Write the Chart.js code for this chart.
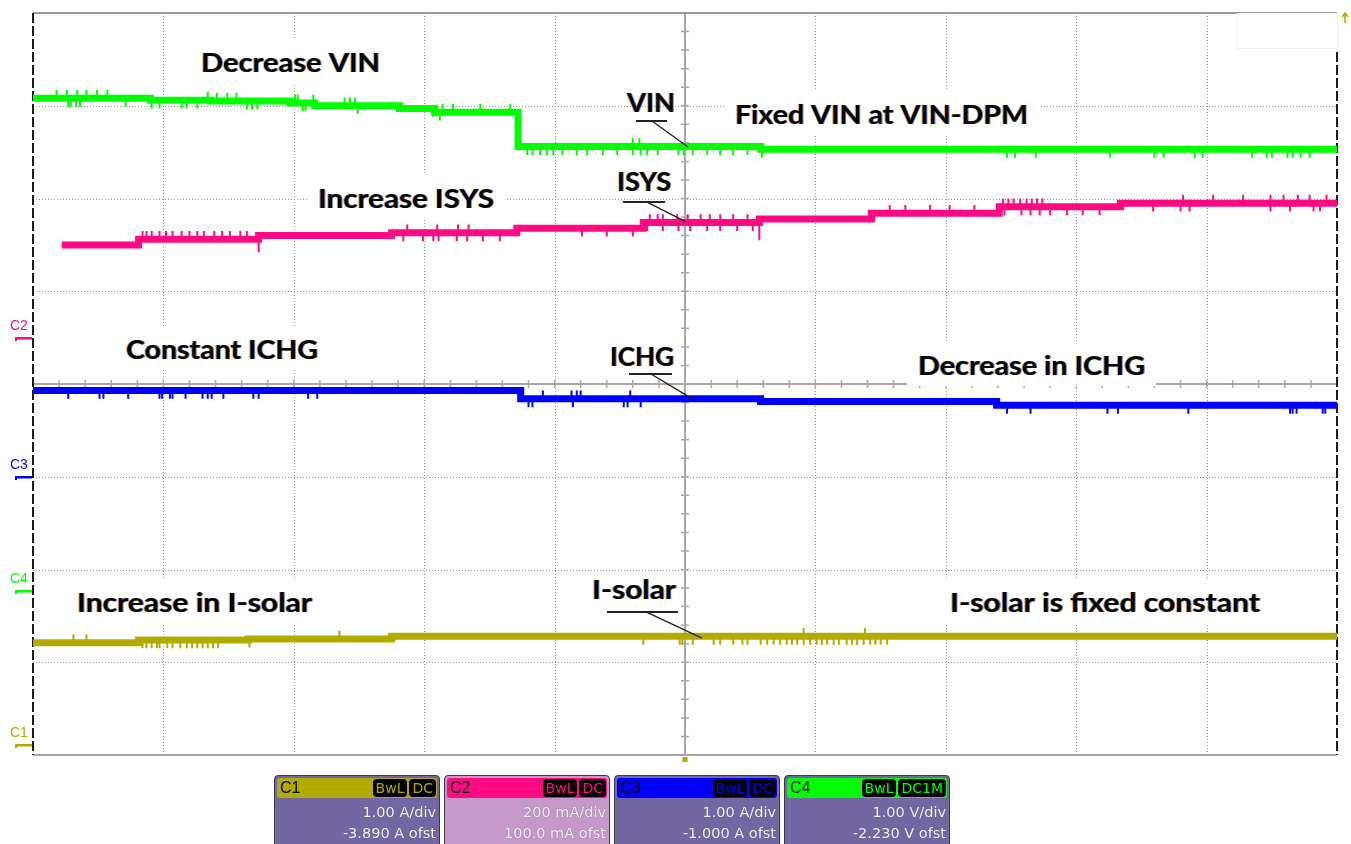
<!DOCTYPE html>
<html>
<head>
<meta charset="utf-8">
<script src="https://cdn.jsdelivr.net/npm/chart.js@4.4.0/dist/chart.umd.min.js"></script>
<style>
html, body { margin: 0; padding: 0; background: #fff; }
#wrap { position: relative; width: 1351px; height: 844px; overflow: hidden; }
#scope { position: absolute; left: 0; top: 0; }
.ch { position: absolute; top: 775px; width: 166px; height: 72px; box-sizing: border-box;
      border: 1px solid #3a3a48; border-radius: 4px 4px 0 0;
      font-family: "DejaVu Sans", Tahoma, sans-serif; color: #f6f6fa; }
.ch .hd { position: absolute; left: 2px; right: 2px; top: 2px; height: 20px; border-radius: 3px;
          color: #000; font-size: 16px; line-height: 20px; padding-left: 3px; box-sizing: border-box;
          font-family: "Liberation Sans", Arial, sans-serif; }
.ch .bd { position: absolute; right: 3px; top: 26px; text-align: right; font-size: 14.5px; line-height: 21px;
          text-shadow: 0 0 1px rgba(40,30,80,0.6); }
.badges { position: absolute; right: 1px; top: 1px; display: flex; gap: 2px; }
.badges span { background: #000; border-radius: 4px; font-size: 14px; line-height: 18px; padding: 0 3px;
               font-family: "DejaVu Sans", Tahoma, sans-serif; }
</style>
</head>
<body>
<div id="wrap">
  <canvas id="scope" width="1351" height="844"></canvas>
</div>
<script>
// screen is 10 x 8 divisions, centre of screen = (5, 0)

// C4 - VIN (green), levels in divisions
const vinX = [0, 0.90, 1.36, 1.97, 2.16, 2.81, 3.08, 3.72, 5.58, 10];
const vinY = [3.08, 3.06, 3.05, 3.03, 3.00, 2.97, 2.93, 2.56, 2.53, 2.53];
const vinUp = [0.18, 0.26, 0.34, 0.41, 0.49, 0.57, 1.34, 1.41, 1.49, 1.56, 2.01, 2.03, 2.15, 2.39, 2.43, 2.47,
               3.14, 3.22, 3.43, 3.66, 4.60, 4.65];
const vinDown = [0.27, 0.29, 0.33, 0.36, 0.71, 0.91, 0.97, 1.14, 1.18, 1.26, 1.64, 1.68, 1.72, 2.07, 2.09, 2.49,
                 3.07, 3.12, 3.79, 3.83, 3.89, 3.94, 3.99, 4.06, 4.17, 4.25, 4.37, 4.48, 4.60, 4.66, 4.71,
                 4.79, 4.95, 4.99, 5.06, 5.17, 5.27, 5.37, 5.48, 5.59, 7.47, 7.53, 7.69, 8.26, 8.60, 8.67,
                 8.91, 8.97, 9.35, 9.46, 9.50, 9.62, 9.66, 9.72, 9.79];

// C2 - ISYS (pink)
const isysX = [0.22, 0.81, 1.73, 2.75, 3.71, 4.68, 5.57, 6.43, 7.41, 8.34, 10];
const isysY = [1.50, 1.56, 1.60, 1.63, 1.68, 1.74, 1.78, 1.84, 1.91, 1.95, 1.95];
const isysUp = [0.84, 0.87, 0.91, 0.97, 1.02, 1.07, 1.14, 1.20, 1.26, 1.31, 1.39, 1.45, 1.51, 1.59, 1.64,
                2.87, 3.10, 3.26, 3.34, 4.73, 4.79, 4.83, 4.94, 5.02, 5.12, 5.19, 5.27, 5.37, 5.48,
                6.57, 6.69, 6.88, 7.03, 7.22, 7.44, 7.48, 7.52, 7.57, 7.62, 7.66, 7.70, 7.74,
                8.82, 9.05, 9.28, 9.49, 9.59, 9.70, 9.79, 9.92];
const isysDown = [2.84, 2.99, 3.07, 3.11, 3.25, 3.33, 3.45, 3.58, 4.21, 4.40, 4.60, 4.71, 4.83, 4.95, 5.04,
                  5.17, 5.27, 5.40, 5.52, 7.45, 7.58, 7.65, 7.72, 7.80, 7.93, 8.05, 8.18, 8.59, 8.80,
                  8.87, 9.49, 9.64, 9.82, 9.87];
const isysGlitchX = [1.73, 5.57];
const isysGlitchY = [1.42, 1.55];

// C3 - ICHG (blue)
const ichgX = [0, 3.74, 5.58, 7.39, 10];
const ichgY = [-0.07, -0.16, -0.19, -0.23, -0.23];
const ichgUp = [3.91, 4.13, 4.17, 4.20, 4.58];
const ichgDown = [0.27, 0.51, 0.54, 0.73, 0.97, 0.99, 1.05, 1.07, 1.17, 1.30, 1.34, 1.37, 1.46, 1.69, 1.73,
                  2.11, 2.18, 3.80, 3.83, 4.14, 4.53, 4.56, 4.66, 7.47, 7.65, 8.24, 8.32, 8.86, 9.64,
                  9.66, 9.69, 9.89, 9.91];

// C1 - I-solar (olive)
const solX = [0, 0.81, 1.65, 2.75, 10];
const solY = [-2.79, -2.76, -2.75, -2.72, -2.72];
const solUp = [0.31, 0.41, 2.35, 5.91, 6.38];
const solDown = [0.84, 0.87, 0.91, 0.95, 0.97, 1.03, 1.07, 1.13, 1.18, 1.22, 1.26, 1.30, 1.34, 1.38, 1.42,
                 1.66, 4.68, 4.96, 4.98, 5.06, 5.22, 5.27, 5.37, 5.44, 5.48, 5.58, 5.63, 5.68, 5.73,
                 5.78, 5.82, 5.86, 5.91, 5.96, 6.01, 6.05, 6.09, 6.14, 6.18, 6.24, 6.28, 6.32, 6.37,
                 6.42, 6.46, 6.50, 6.55];

// channel settings (bottom boxes + offset markers on the left)
const chNames = ['C1', 'C2', 'C3', 'C4'];
const chCoupling = [['BwL', 'DC'], ['BwL', 'DC'], ['BwL', 'DC'], ['BwL', 'DC1M']];
const chScale = ['1.00 A/div', '200 mA/div', '1.00 A/div', '1.00 V/div'];
const chOfst = ['-3.890 A ofst', '100.0 mA ofst', '-1.000 A ofst', '-2.230 V ofst'];
const chMarker = [-3.89, 0.5, -1.0, -2.23];
const chColor = ['#b3aa00', '#ff0a84', '#0000ff', '#00ff00'];
const chBody = ['#7367a3', '#c598c9', '#7367a3', '#7367a3'];

// annotations: text, left x, baseline y, right x (divisions), white box behind
const labels = [
    ['Decrease VIN', 1.288, 3.364, 2.661, true],
    ['VIN', 4.555, 2.933, 4.923, false],
    ['Fixed VIN at VIN-DPM', 5.383, 2.803, 7.630, true],
    ['Increase ISYS', 2.186, 1.898, 3.535, true],
    ['ISYS', 4.479, 2.081, 4.893, false],
    ['Constant ICHG', 0.713, 0.270, 2.186, true],
    ['ICHG', 4.425, 0.194, 4.916, false],
    ['Decrease in ICHG', 6.787, 0.097, 8.528, true],
    ['Increase in I-solar', 0.337, -2.458, 2.140, true],
    ['I-solar', 4.287, -2.318, 4.931, false],
    ['I-solar is fixed constant', 7.032, -2.458, 9.410, true]
];
// callouts: underline x0, x1, y, then pointer x0, x1, end y
const callouts = [
    [4.624, 4.862, 2.836, 4.747, 5.023, 2.555],
    [4.525, 4.847, 1.962, 4.709, 5.008, 1.747],
    [4.571, 4.900, 0.108, 4.739, 5.061, -0.162],
    [4.402, 4.946, -2.458, 4.701, 5.130, -2.739]
];

const SPIKE = 0.09; // how far a glitch reaches past the trace centre, in divisions

function stepData(xs, ys) {
    return xs.map((x, i) => ({ x: x, y: ys[i] }));
}
function levelAt(xs, ys, x) {
    let v = ys[0];
    for (let i = 0; i < xs.length; i++) if (xs[i] <= x) v = ys[i];
    return v;
}
function glitchData(xs, ys, ups, downs, gx, gy) {
    const out = [];
    ups.forEach(x => { const l = levelAt(xs, ys, x); out.push({ x: x, y: l }, { x: x, y: l + SPIKE }, { x: x, y: null }); });
    downs.forEach(x => { const l = levelAt(xs, ys, x); out.push({ x: x, y: l }, { x: x, y: l - SPIKE }, { x: x, y: null }); });
    (gx || []).forEach((x, i) => { out.push({ x: x, y: levelAt(xs, ys, x) }, { x: x, y: gy[i] }, { x: x, y: null }); });
    return out;
}

function trace(data, color) {
    return { data: data, borderColor: color, borderWidth: 7, stepped: true, pointRadius: 0,
             borderCapStyle: 'butt', fill: false };
}
function glitches(data, color) {
    return { data: data, borderColor: color, borderWidth: 2, pointRadius: 0, spanGaps: false, fill: false };
}

const gridPlugin = {
    id: 'graticule',
    beforeDatasetsDraw(chart) {
        const { ctx, chartArea: a, scales: { x, y } } = chart;
        ctx.save();
        // dotted divisions
        ctx.strokeStyle = '#9a9a9a';
        ctx.lineWidth = 1;
        ctx.setLineDash([1, 2]);
        for (let i = 1; i < 10; i++) {
            if (i === 5) continue;
            const px = Math.round(x.getPixelForValue(i)) + 0.5;
            ctx.beginPath(); ctx.moveTo(px, a.top); ctx.lineTo(px, a.bottom); ctx.stroke();
        }
        for (let j = -3; j <= 3; j++) {
            if (j === 0) continue;
            const py = Math.round(y.getPixelForValue(j)) + 0.5;
            ctx.beginPath(); ctx.moveTo(a.left, py); ctx.lineTo(a.right, py); ctx.stroke();
        }
        ctx.setLineDash([]);
        // centre cross with minor ticks
        const cx = x.getPixelForValue(5), cy = y.getPixelForValue(0);
        ctx.strokeStyle = '#a8a8a8';
        ctx.lineWidth = 2;
        ctx.beginPath();
        ctx.moveTo(cx, a.top); ctx.lineTo(cx, a.bottom);
        ctx.moveTo(a.left, cy); ctx.lineTo(a.right, cy);
        ctx.stroke();
        ctx.lineWidth = 1.5;
        ctx.beginPath();
        for (let k = 1; k < 50; k++) {
            const px = x.getPixelForValue(k / 5);
            ctx.moveTo(px, cy - 4); ctx.lineTo(px, cy + 4);
        }
        for (let k = -19; k < 20; k++) {
            const py = y.getPixelForValue(k / 5);
            ctx.moveTo(cx - 4, py); ctx.lineTo(cx + 4, py);
        }
        ctx.stroke();
        // frame
        ctx.strokeStyle = '#7a7a7a';
        ctx.lineWidth = 1.5;
        ctx.beginPath(); ctx.moveTo(a.left, a.top); ctx.lineTo(a.right, a.top); ctx.stroke();
        ctx.strokeStyle = '#a6a6a6';
        ctx.lineWidth = 2;
        ctx.beginPath(); ctx.moveTo(a.left, a.bottom); ctx.lineTo(a.right, a.bottom); ctx.stroke();
        ctx.strokeStyle = '#1a1a1a';
        ctx.lineWidth = 2;
        ctx.setLineDash([10, 3]);
        ctx.beginPath();
        ctx.moveTo(a.left, a.top); ctx.lineTo(a.left, a.bottom);
        ctx.moveTo(a.right, a.top); ctx.lineTo(a.right, a.bottom);
        ctx.stroke();
        ctx.setLineDash([]);
        // empty readout box top right
        ctx.fillStyle = '#fff';
        ctx.fillRect(a.right - 99, a.top + 1, 100, 35);
        ctx.strokeStyle = '#f1f1f1';
        ctx.lineWidth = 1;
        ctx.strokeRect(a.right - 99.5, a.top + 0.5, 100, 35);

        // annotation text
        ctx.font = 'bold 27px Lato, "Open Sans", sans-serif';
        ctx.textBaseline = 'alphabetic';
        labels.forEach(([t, lx, by, rx, box]) => {
            const x0 = x.getPixelForValue(lx), x1 = x.getPixelForValue(rx), yb = y.getPixelForValue(by);
            if (box) {
                ctx.fillStyle = '#fff';
                ctx.fillRect(x0 - 11, yb - 33, x1 - x0 + 22, 44);
            }
            const sx = (x1 - x0) / ctx.measureText(t).width;
            ctx.save();
            ctx.translate(x0, yb);
            ctx.scale(sx, 1);
            ctx.fillStyle = 'rgba(230,140,20,0.75)';
            ctx.fillText(t, -0.9, 0);
            ctx.fillStyle = 'rgba(30,90,210,0.7)';
            ctx.fillText(t, 0.9, 0);
            ctx.fillStyle = '#050505';
            ctx.fillText(t, 0, 0);
            ctx.restore();
        });
        ctx.restore();
    },
    afterDatasetsDraw(chart) {
        const { ctx, chartArea: a, scales: { x, y } } = chart;
        ctx.save();
        // callout pointers
        ctx.strokeStyle = '#222';
        callouts.forEach(([u0, u1, uy, p0, p1, py]) => {
            ctx.lineWidth = 2;
            ctx.beginPath();
            ctx.moveTo(x.getPixelForValue(u0), y.getPixelForValue(uy));
            ctx.lineTo(x.getPixelForValue(u1), y.getPixelForValue(uy));
            ctx.stroke();
            ctx.lineWidth = 1.4;
            ctx.beginPath();
            ctx.moveTo(x.getPixelForValue(p0), y.getPixelForValue(uy));
            ctx.lineTo(x.getPixelForValue(p1), y.getPixelForValue(py));
            ctx.stroke();
        });
        // channel offset markers
        ctx.font = '14px "Liberation Sans", Arial, sans-serif';
        ctx.textBaseline = 'alphabetic';
        chNames.forEach((n, i) => {
            const py = Math.round(y.getPixelForValue(chMarker[i]));
            ctx.fillStyle = chColor[i];
            ctx.fillText(n, 10, py - 8);
            ctx.fillRect(15, py - 1, a.left - 16, 2.5);
            ctx.fillRect(15, py - 1, 2, 4);
        });
        // trigger markers
        ctx.fillStyle = '#b3aa00';
        const cx = x.getPixelForValue(5);
        ctx.fillRect(cx - 2.5, a.bottom + 2, 5, 5);
        ctx.strokeStyle = '#b3aa00';
        ctx.lineWidth = 1.5;
        ctx.beginPath();
        ctx.moveTo(a.right + 8, a.top + 10); ctx.lineTo(a.right + 8, a.top);
        ctx.moveTo(a.right + 5, a.top + 4); ctx.lineTo(a.right + 8, a.top); ctx.lineTo(a.right + 11, a.top + 4);
        ctx.stroke();
        ctx.restore();
    }
};

new Chart(document.getElementById('scope'), {
    type: 'line',
    data: {
        datasets: [
            glitches(glitchData(vinX, vinY, vinUp, vinDown), '#00ff00'),
            trace(stepData(vinX, vinY), '#00ff00'),
            glitches(glitchData(isysX, isysY, isysUp, isysDown, isysGlitchX, isysGlitchY), '#ff0a84'),
            trace(stepData(isysX, isysY), '#ff0a84'),
            glitches(glitchData(ichgX, ichgY, ichgUp, ichgDown), '#0000ff'),
            trace(stepData(ichgX, ichgY), '#0000ff'),
            glitches(glitchData(solX, solY, solUp, solDown), '#b3aa00'),
            trace(stepData(solX, solY), '#b3aa00')
        ]
    },
    options: {
        responsive: false,
        animation: false,
        events: [],
        layout: { padding: { left: 33, right: 14, top: 13, bottom: 89 } },
        scales: {
            x: { type: 'linear', min: 0, max: 10, display: false },
            y: { type: 'linear', min: -4, max: 4, display: false }
        },
        plugins: { legend: { display: false }, tooltip: { enabled: false } }
    },
    plugins: [gridPlugin]
});

// channel readout boxes
const wrap = document.getElementById('wrap');
chNames.forEach((n, i) => {
    const box = document.createElement('div');
    box.className = 'ch';
    box.style.left = (274 + 170 * i) + 'px';
    box.style.background = chBody[i];
    const badges = chCoupling[i].map(c => '<span style="color:' + chColor[i] + '">' + c + '</span>').join('');
    box.innerHTML = '<div class="hd" style="background:' + chColor[i] + '">' + n +
        '<div class="badges">' + badges + '</div></div>' +
        '<div class="bd">' + chScale[i] + '<br>' + chOfst[i] + '</div>';
    wrap.appendChild(box);
});
</script>
</body>
</html>
